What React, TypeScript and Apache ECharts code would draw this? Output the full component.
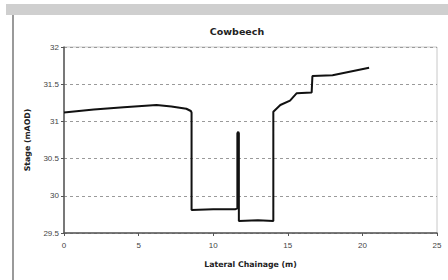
import React, { useEffect, useRef } from "react";
import * as echarts from "echarts";

const chainage = [0, 2, 4, 6.2, 7.2, 8.2, 8.5, 8.55, 8.55, 10, 11.0, 11.5, 11.62, 11.62, 11.68, 11.72, 11.72, 13, 14.03, 14.03, 14.5, 15.15, 15.6, 16.6, 16.65, 18.0, 20.45];
const stage = [31.12, 31.16, 31.19, 31.22, 31.2, 31.17, 31.14, 31.12, 29.81, 29.82, 29.82, 29.82, 29.83, 30.84, 30.86, 30.84, 29.66, 29.67, 29.66, 31.13, 31.22, 31.28, 31.38, 31.39, 31.61, 31.62, 31.72];
const title = "Cowbeech";
const xName = "Lateral Chainage (m)";
const yName = "Stage (mAOD)";

const boldFont = "DejaVu Sans, Verdana, sans-serif";
const tickFont = "Liberation Sans, Arial, sans-serif";

export default function App() {
  const ref = useRef<HTMLDivElement>(null);
  useEffect(() => {
    const chart = echarts.init(ref.current!, null, { renderer: "svg" });
    const data = chainage.map((x, i) => [x, stage[i]]);
    chart.setOption({
      animation: false,
      backgroundColor: "#ffffff",
      title: {
        text: title,
        left: 232,
        textAlign: "center",
        top: 21,
        textStyle: { fontSize: 9.5, fontWeight: "bold", color: "#222", fontFamily: boldFont },
      },
      graphic: [
        { type: "rect", shape: { x: 6, y: 4, width: 442, height: 11 }, style: { fill: "#cfcfcf" }, z: 10 },
        { type: "line", shape: { x1: 13, y1: 15, x2: 13, y2: 280 }, style: { stroke: "#9a9a9a", lineWidth: 2 }, z: 10 },
      ],
      grid: { left: 64, right: 11, top: 47, bottom: 47, show: true, borderColor: "#c8c8c8", borderWidth: 1 },
      xAxis: {
        type: "value",
        min: 0,
        max: 25,
        interval: 5,
        name: xName,
        nameLocation: "middle",
        nameGap: 27,
        nameTextStyle: { fontSize: 7.8, fontWeight: "bold", color: "#222", fontFamily: boldFont },
        axisLine: { lineStyle: { color: "#555", width: 1.5 } },
        axisTick: { show: true, length: 3, lineStyle: { color: "#555" } },
        axisLabel: { fontSize: 8, color: "#444", margin: 8, fontFamily: tickFont },
        splitLine: { show: false },
      },
      yAxis: {
        type: "value",
        min: 29.5,
        max: 32,
        interval: 0.5,
        name: yName,
        nameLocation: "middle",
        nameGap: 33,
        nameRotate: 90,
        nameTextStyle: { fontSize: 7.8, fontWeight: "bold", color: "#222", fontFamily: boldFont },
        axisLine: { show: true, lineStyle: { color: "#555", width: 1.5 } },
        axisTick: { show: true, length: 3, lineStyle: { color: "#555" } },
        axisLabel: { fontSize: 8, color: "#444", margin: 5, fontFamily: tickFont },
        splitLine: { show: true, lineStyle: { color: "#9a9a9a", type: [3, 3], width: 1 } },
      },
      series: [
        {
          type: "line",
          data,
          showSymbol: false,
          symbol: "none",
          lineStyle: { color: "#111", width: 2 },
        },
      ],
    });
    return () => chart.dispose();
  }, []);
  return <div ref={ref} style={{ position: "absolute", left: 0, top: 0, width: 448, height: 280 }} />;
}
